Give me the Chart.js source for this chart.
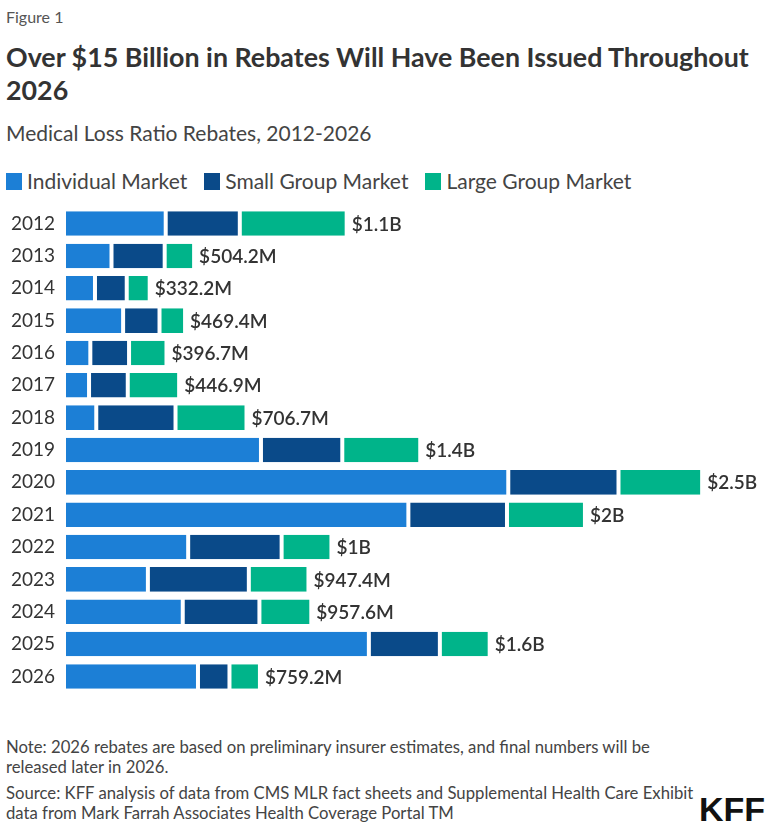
<!DOCTYPE html>
<html>
<head>
<meta charset="utf-8">
<script src="https://cdn.jsdelivr.net/npm/chart.js@4.4.1/dist/chart.umd.min.js"></script>
<style>
  body { margin: 0; background: #fff; font-family: Lato, "Open Sans", sans-serif; color: #333; }
  #page { position: relative; width: 768px; height: 831px; overflow: hidden; }
  .abs { position: absolute; left: 6px; white-space: nowrap; }
  #fig { top: 7px; font-size: 16px; line-height: 20px; color: #555; }
  #title { top: 41px; font-size: 26.8px; line-height: 33px; font-weight: 700; color: #333; }
  #sub { top: 120px; font-size: 21px; line-height: 26px; color: #444; }
  #legend { top: 168px; font-size: 21px; line-height: 26px; color: #444; display: flex; }
  #legend span.item { display: flex; align-items: center; margin-right: 17px; }
  #legend i { display: inline-block; width: 16px; height: 17px; margin-right: 5px; }
  #chartBox { position: absolute; left: 0; top: 187px; width: 768px; height: 526px; }
  #notes { top: 737px; font-size: 16.7px; line-height: 20px; color: #444; }
  #notes p { margin: 0; }
  #notes p + p { margin-top: 6px; }
  #kff { position: absolute; left: 699px; top: 790px; font-family: "Liberation Sans Narrow", "Liberation Sans", sans-serif; font-weight: 700; font-size: 34px; color: #111; }
</style>
</head>
<body>
<div id="page">
  <div id="fig" class="abs">Figure 1</div>
  <div id="title" class="abs">Over $15 Billion in Rebates Will Have Been Issued Throughout<br>2026</div>
  <div id="sub" class="abs">Medical Loss Ratio Rebates, 2012-2026</div>
  <div id="legend" class="abs"></div>
  <div id="chartBox"><canvas id="chart"></canvas></div>
  <div id="notes" class="abs">
    <p>Note: 2026 rebates are based on preliminary insurer estimates, and final numbers will be<br>released later in 2026.</p>
    <p>Source: KFF analysis of data from CMS MLR fact sheets and Supplemental Health Care Exhibit<br>data from Mark Farrah Associates Health Coverage Portal TM</p>
  </div>
  <div id="kff">KFF</div>
</div>
<script>
// rebates in billions of dollars
const years = ['2012', '2013', '2014', '2015', '2016', '2017', '2018', '2019', '2020', '2021', '2022', '2023', '2024', '2025', '2026'];
const individual = [0.394, 0.184, 0.120, 0.229, 0.102, 0.097, 0.125, 0.763, 1.721, 1.334, 0.481, 0.325, 0.460, 1.181, 0.519];
const smallGroup = [0.287, 0.206, 0.123, 0.141, 0.150, 0.150, 0.307, 0.315, 0.427, 0.382, 0.362, 0.391, 0.297, 0.275, 0.122];
const largeGroup = [0.414, 0.114, 0.089, 0.099, 0.145, 0.199, 0.275, 0.302, 0.324, 0.302, 0.193, 0.231, 0.201, 0.193, 0.118];
const totalLabels = ['$1.1B', '$504.2M', '$332.2M', '$469.4M', '$396.7M', '$446.9M', '$706.7M', '$1.4B', '$2.5B', '$2B', '$1B', '$947.4M', '$957.6M', '$1.6B', '$759.2M'];

const seriesNames = ['Individual Market', 'Small Group Market', 'Large Group Market'];
const colors = ['#1c7fd6', '#0a4a89', '#00b48a'];

// legend as html text
const legend = document.getElementById('legend');
seriesNames.forEach((name, i) => {
    const item = document.createElement('span');
    item.className = 'item';
    item.innerHTML = '<i style="background:' + colors[i] + '"></i>' + name;
    legend.appendChild(item);
});

// totals at the end of each bar
const totalsPlugin = {
    id: 'totals',
    afterDatasetsDraw(chart) {
        const ctx = chart.ctx;
        const last = chart.getDatasetMeta(chart.data.datasets.length - 1);
        ctx.save();
        ctx.font = '600 19px Lato, "Open Sans", sans-serif';
        ctx.fillStyle = '#333';
        ctx.textBaseline = 'middle';
        last.data.forEach((bar, i) => {
            ctx.fillText(totalLabels[i], bar.x + 5, bar.y + 1);
        });
        ctx.restore();
    }
};

const makeSet = (label, data, i) => ({
    label: label,
    data: data,
    backgroundColor: colors[i],
    borderColor: '#fff',
    borderWidth: { top: 0, bottom: 0, left: 2, right: 2 },
    borderSkipped: false,
    barPercentage: 0.76,
    categoryPercentage: 1
});

new Chart(document.getElementById('chart'), {
    type: 'bar',
    data: {
        labels: years,
        datasets: [
            makeSet(seriesNames[0], individual, 0),
            makeSet(seriesNames[1], smallGroup, 1),
            makeSet(seriesNames[2], largeGroup, 2)
        ]
    },
    options: {
        indexAxis: 'y',
        responsive: true,
        maintainAspectRatio: false,
        animation: false,
        layout: { padding: { top: 8, bottom: 9, left: 0, right: 7 } },
        plugins: { legend: { display: false }, tooltip: { enabled: false } },
        scales: {
            x: {
                stacked: true,
                display: false,
                min: 0,
                max: 2.7
            },
            y: {
                stacked: true,
                grid: { display: false, drawTicks: false },
                border: { display: false },
                afterFit(scale) { scale.width = 64; },
                ticks: {
                    padding: 9,
                    color: '#333',
                    font: { family: 'Lato, "Open Sans", sans-serif', size: 19 }
                }
            }
        }
    },
    plugins: [totalsPlugin]
});
</script>
</body>
</html>
